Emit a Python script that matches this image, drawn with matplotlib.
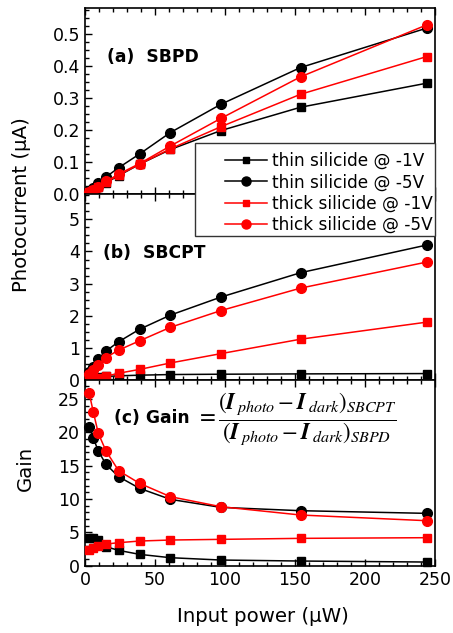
import matplotlib
matplotlib.use('Agg')
import matplotlib.pyplot as plt
from matplotlib.ticker import MultipleLocator
from matplotlib.lines import Line2D
from matplotlib.patches import Rectangle

# ---------------- data ----------------
power = [3, 6, 9.5, 15, 24, 39, 61, 97, 154, 244]   # input power (uW)

labels = ["thin silicide @ -1V", "thin silicide @ -5V",
          "thick silicide @ -1V", "thick silicide @ -5V"]

# (a) SBPD photocurrent (uA)
sbpd_thin_1v = [0.006, 0.013, 0.022, 0.036, 0.058, 0.094, 0.140, 0.199, 0.272, 0.347]
sbpd_thin_5v = [0.010, 0.021, 0.034, 0.054, 0.083, 0.126, 0.193, 0.281, 0.396, 0.519]
sbpd_thick_1v = [0.006, 0.013, 0.022, 0.037, 0.060, 0.094, 0.142, 0.211, 0.3125, 0.430]
sbpd_thick_5v = [0.007, 0.014, 0.024, 0.040, 0.063, 0.096, 0.151, 0.237, 0.367, 0.529]

# (b) SBCPT photocurrent (uA)
sbcpt_thin_1v = [0.04, 0.07, 0.09, 0.11, 0.13, 0.15, 0.17, 0.18, 0.19, 0.20]
sbcpt_thin_5v = [0.25, 0.42, 0.65, 0.90, 1.19, 1.58, 2.02, 2.58, 3.34, 4.20]
sbcpt_thick_1v = [0.02, 0.04, 0.07, 0.12, 0.21, 0.33, 0.53, 0.82, 1.27, 1.80]
sbcpt_thick_5v = [0.18, 0.32, 0.48, 0.70, 0.93, 1.22, 1.64, 2.16, 2.86, 3.67]

# (c) Gain
gain_thin_1v = [4.15, 4.15, 3.85, 2.85, 2.30, 1.70, 1.20, 0.85, 0.70, 0.55]
gain_thin_5v = [20.85, 19.1, 17.2, 15.2, 13.35, 11.6, 9.95, 8.75, 8.25, 7.85]
gain_thick_1v = [2.35, 2.60, 3.00, 3.25, 3.45, 3.70, 3.85, 3.95, 4.10, 4.20]
gain_thick_5v = [25.85, 23.0, 19.85, 17.2, 14.25, 12.35, 10.35, 8.85, 7.60, 6.75]

colors = ["black", "black", "red", "red"]
markers = ["s", "o", "s", "o"]
msizes = [5.5, 7, 5.5, 7]

# ---------------- figure ----------------
plt.rcParams['font.family'] = ['DejaVu Sans']
W, H = 453, 633
fig = plt.figure(figsize=(W / 100, H / 100), dpi=100)

def fx(px):
    return px / W

def fy(px):
    return 1 - px / H

L, R = 85, 435
ax_a = fig.add_axes([fx(L), fy(194.3), fx(R) - fx(L), fy(8.3) - fy(194.3)])
ax_b = fig.add_axes([fx(L), fy(380), fx(R) - fx(L), fy(194.3) - fy(380)])
ax_c = fig.add_axes([fx(L), fy(565.7), fx(R) - fx(L), fy(380) - fy(565.7)])

def draw(ax, series):
    for y, c, m, ms in zip(series, colors, markers, msizes):
        ax.plot(power, y, color=c, marker=m, markersize=ms, lw=1.1,
                markeredgecolor=c, markerfacecolor=c, clip_on=False, zorder=3)

draw(ax_a, [sbpd_thin_1v, sbpd_thin_5v, sbpd_thick_1v, sbpd_thick_5v])
draw(ax_b, [sbcpt_thin_1v, sbcpt_thin_5v, sbcpt_thick_1v, sbcpt_thick_5v])
draw(ax_c, [gain_thin_1v, gain_thin_5v, gain_thick_1v, gain_thick_5v])

ax_a.set_ylim(0, 0.581)
ax_b.set_ylim(0, 5.78)
ax_c.set_ylim(0, 27.85)
ax_a.yaxis.set_major_locator(MultipleLocator(0.1))
ax_a.yaxis.set_minor_locator(MultipleLocator(0.025))
ax_b.yaxis.set_major_locator(MultipleLocator(1))
ax_b.yaxis.set_minor_locator(MultipleLocator(0.25))
ax_c.yaxis.set_major_locator(MultipleLocator(5))
ax_c.yaxis.set_minor_locator(MultipleLocator(1))
ax_a.yaxis.set_major_formatter(matplotlib.ticker.FormatStrFormatter('%.1f'))

for ax in (ax_a, ax_b, ax_c):
    ax.set_xlim(0, 250)
    ax.xaxis.set_major_locator(MultipleLocator(50))
    ax.xaxis.set_minor_locator(MultipleLocator(10))
    ax.tick_params(which='both', direction='in', top=True, right=False,
                   labelsize=12.5, width=1.0)
    ax.tick_params(which='major', length=5)
    ax.tick_params(which='minor', length=3)
    for s in ax.spines.values():
        s.set_linewidth(1.2)
ax_a.tick_params(labelbottom=False)
ax_b.tick_params(labelbottom=False)

# panel labels
ax_a.text(15.7, 0.43, "(a)  SBPD", fontsize=12.3, fontweight='bold', va='center', ha='left')
ax_b.text(13, 3.96, "(b)  SBCPT", fontsize=12.3, fontweight='bold', va='center', ha='left')
ax_c.text(21, 22.2, "(c) Gain", fontsize=12.3, fontweight='bold', va='center', ha='left')
ax_c.text(79, 21.9,
          r'$=\dfrac{\left(\mathbfit{I}_{\,photo}-\mathbfit{I}_{\,dark}\right)_{SBCPT}}'
          r'{\left(\mathbfit{I}_{\,photo}-\mathbfit{I}_{\,dark}\right)_{SBPD}}$',
          fontsize=16.5, math_fontfamily='stix', va='center', ha='left')

# axis labels
fig.text(fx(22), fy(205), "Photocurrent (μA)", rotation=90, fontsize=14.2,
         ha='center', va='center')
fig.text(fx(25), fy(468), "Gain", rotation=90, fontsize=14.2,
         ha='center', va='center')
fig.text(fx(263), fy(617), "Input power (μW)", fontsize=14.2,
         ha='center', va='center')

# legend (frame drawn separately)
frame = Rectangle((fx(195), fy(236)), fx(435) - fx(195), fy(143) - fy(236),
                  transform=fig.transFigure, facecolor='white', edgecolor='#333333',
                  lw=1.0, zorder=4)
fig.patches.append(frame)
handles = [Line2D([], [], color=c, marker=m, markersize=ms - 0.5, lw=1.1,
                  markeredgecolor=c, markerfacecolor=c)
           for c, m, ms in zip(colors, markers, msizes)]
leg = fig.legend(handles, labels, loc='upper left',
                 bbox_to_anchor=(fx(225), fy(152)), frameon=False,
                 borderpad=0, borderaxespad=0, fontsize=12.2,
                 handlelength=2.5, handletextpad=0.3, labelspacing=0.2)
leg.set_zorder(5)

fig.savefig("out.png", dpi=100)
